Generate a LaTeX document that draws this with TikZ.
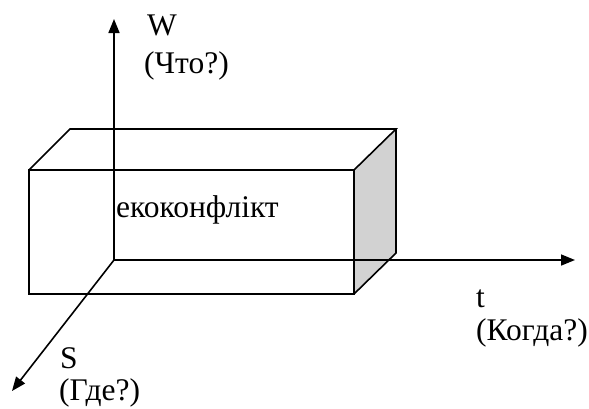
\documentclass[tikz,border=0pt]{standalone}
\usepackage{fontspec}
\setmainfont{Liberation Serif}
\usetikzlibrary{arrows.meta}
\begin{document}
\begin{tikzpicture}[x=1pt,y=-1pt,
  edge/.style={line width=1.6pt, line join=miter},
  axis/.style={line width=1.6pt, -{Triangle[length=14pt,width=11pt]}},
  lbl/.style={anchor=base west, inner sep=0pt, font=\fontsize{31.5}{37}\selectfont}]
\useasboundingbox (0,0) rectangle (589,408);
% box corners
\coordinate (FTL) at (29,170);
\coordinate (FTR) at (354,170);
\coordinate (FBR) at (354,294);
\coordinate (FBL) at (29,294);
\coordinate (BTL) at (70,129);
\coordinate (BTR) at (396,129);
\coordinate (BBR) at (396,253);
% axes
\coordinate (O) at (114,260);
\coordinate (Wend) at (114,19);
\coordinate (tend) at (575,260);
\coordinate (Send) at (12,391);
% shaded right face
\fill[gray!35] (FTR) -- (BTR) -- (BBR) -- (FBR) -- cycle;
\draw[edge] (FBL) rectangle (FTR);
\draw[edge] (FTL) -- (BTL) -- (BTR) -- (FTR);
\draw[edge] (BTR) -- (BBR) -- (FBR);
% axes
\draw[axis] (O) -- (Wend);
\draw[axis] (O) -- (tend);
\draw[axis] (O) -- (Send);
% labels
\node[lbl] (w1) at (147,35) {W};
\node[lbl] (w2) at (144,73) {(Что?)};
\node[lbl] (ek) at (116,217) {екоконфлікт};
\node[lbl] (t1) at (476,307) {t};
\node[lbl] (t2) at (476,340) {(Когда?)};
\node[lbl] (s1) at (60,368) {S};
\node[lbl] (s2) at (59,400) {(Где?)};
\end{tikzpicture}
\end{document}
